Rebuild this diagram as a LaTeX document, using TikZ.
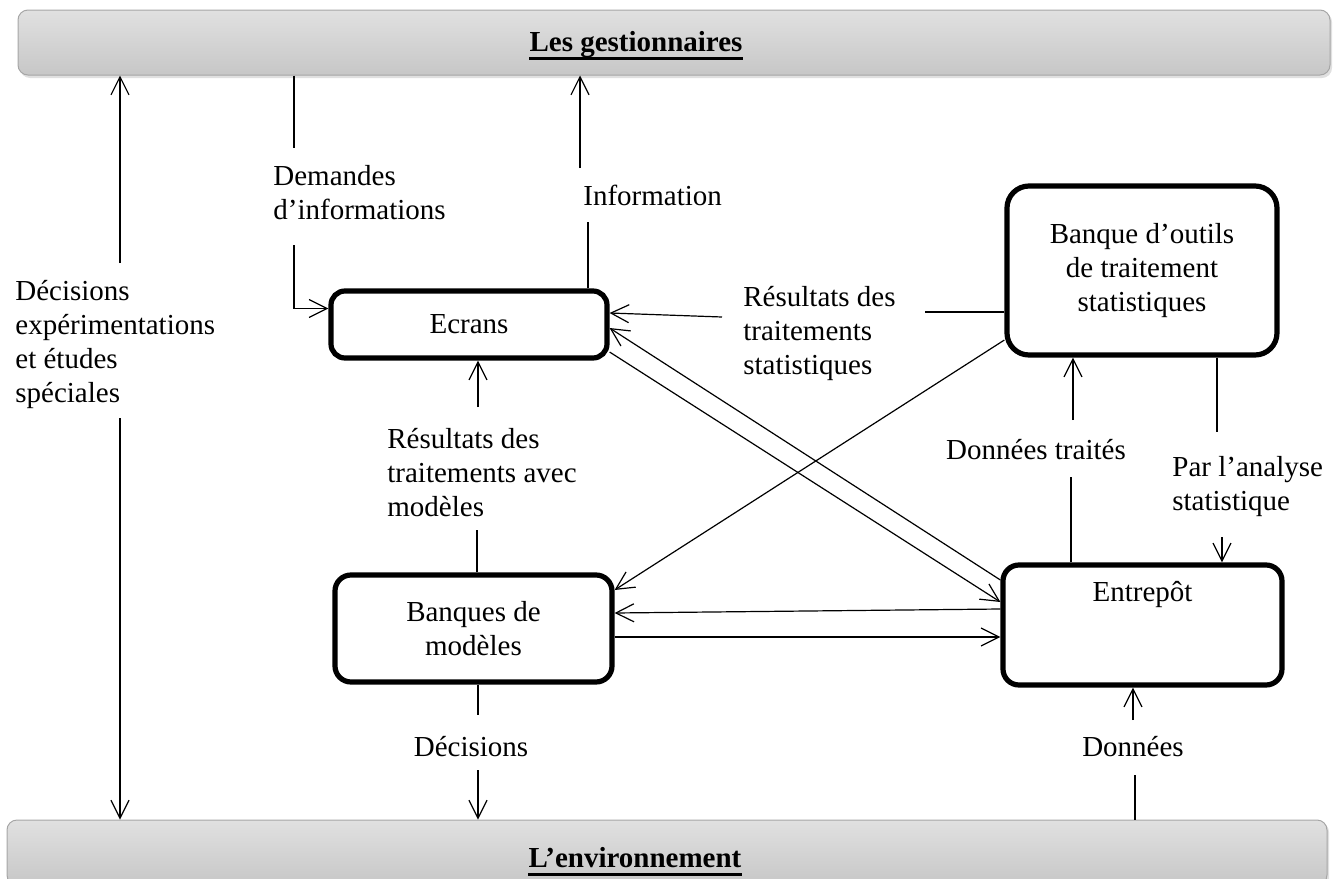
\documentclass[tikz,border=0pt]{standalone}
\usepackage{fontspec}
\setmainfont{Liberation Serif}
\usetikzlibrary{arrows.meta}
\begin{document}
\begin{tikzpicture}[x=0.5pt,y=-0.5pt,
  txt/.style={font=\fontsize{14.5}{17}\selectfont, inner sep=0pt, align=left},
  box/.style={draw, line width=2.6pt, fill=white, font=\fontsize{14.5}{17}\selectfont, align=center, inner sep=0pt},
  bar/.style={draw=black!35, line width=0.5pt, rounded corners=5pt, top color=black!12, bottom color=black!22},
  barshadow/.style={fill=black!12, rounded corners=5pt},
  bartxt/.style={font=\fontsize{14.5}{17}\selectfont\bfseries, inner sep=0pt},
  conn/.style={line width=0.6pt},
  arr/.style={conn, -{Straight Barb[length=9pt,width=9pt,line width=0.6pt]}}
]
\useasboundingbox (0,0) rectangle (1341,879);

% bars
\fill[barshadow] (20,12) rectangle (1332,78);
\node[bar, minimum width=656pt, minimum height=32.5pt] (top) at (674,42.5) {};
\fill[barshadow] (9,822) rectangle (1329,890);
\node[bar, minimum width=660pt, minimum height=32.5pt] (env) at (667,852.5) {};
\node[bartxt] (gt) at (636,45) {Les gestionnaires};
\draw[line width=1.5pt] ([yshift=-3.5pt]gt.base west) -- ([yshift=-3.5pt]gt.base east);
\node[bartxt] (en) at (635,858) {L’environnement};
\draw[line width=1.5pt] ([yshift=-3.5pt]en.base west) -- ([yshift=-3.5pt]en.base east);

% boxes
\node[box, rounded corners=7pt, minimum width=138pt, minimum height=33.5pt] (ecr) at (469,324.5) {Ecrans};
\node[box, rounded corners=11pt, minimum width=135pt, minimum height=84.5pt] (out) at (1142,270.5) {Banque d’outils\\de traitement\\statistiques};
\node[box, rounded corners=8pt, minimum width=138.5pt, minimum height=53.5pt] (mod) at (473.5,628.5) {Banques de\\modèles};
\node[box, rounded corners=8pt, minimum width=139.5pt, minimum height=60pt] (ent) at (1142.5,625) {Entrepôt\\[17pt]};

% labels
\node[txt, anchor=west] (dec) at (15,344) {Décisions\\expérimentations\\et études\\spéciales};
\node[txt, anchor=west] (dem) at (273,193) {Demandes\\d’informations};
\node[txt, anchor=west] (inf) at (583,195) {Information};
\node[txt, anchor=west] (rst) at (743,333) {Résultats des\\traitements\\statistiques};
\node[txt, anchor=west] (ram) at (387,473) {Résultats des\\traitements avec\\modèles};
\node[txt] (dtr) at (1036,450) {Données traités};
\node[txt, anchor=west] (pan) at (1172,487) {Par l’analyse\\statistique};
\node[txt] (deci) at (471,747) {Décisions};
\node[txt] (don) at (1133,747) {Données};

% coordinates for label gaps
\coordinate (d1) at (120,263);
\coordinate (d2) at (120,418);
\coordinate (dm1) at (294,148);
\coordinate (dm2) at (294,245);
\coordinate (in1) at (588,222);
\coordinate (in2) at (580,168);
\coordinate (rs1) at (925,312);
\coordinate (rs2) at (722,317);
\coordinate (am1) at (477,530);
\coordinate (am2) at (478,407);
\coordinate (dt1) at (1071,477);
\coordinate (dt2) at (1073,420);
\coordinate (pa1) at (1217,432);
\coordinate (pa2) at (1222,537);
\coordinate (de1) at (478,715);
\coordinate (de2) at (478,770);
\coordinate (do1) at (1135,775);
\coordinate (do2) at (1133,720);

% connectors
\draw[arr] (d1) -- (d1 |- top.south);
\draw[arr] (d2) -- (d2 |- env.north);

\draw[conn] (dm1 |- top.south) -- (dm1);
\draw[arr] (dm2) |- ([yshift=8pt]ecr.west);

\draw[conn] (in1 |- ecr.north) -- (in1);
\draw[arr] (in2) -- (in2 |- top.south);

\draw[conn] (rs1 -| out.west) -- (rs1);
\draw[arr] (rs2) -- ([yshift=5.75pt]ecr.east);

\draw[arr] ([yshift=22.5pt]ent.west) -- ([yshift=-1.75pt]ecr.east);
\draw[arr] ([yshift=-13.75pt]ecr.east) -- ([yshift=11.5pt]ent.west);

\draw[arr] ([yshift=-34.75pt]out.west) -- ([yshift=19.25pt]mod.east);

\draw[arr] ([yshift=8pt]ent.west) -- ([yshift=7.75pt]mod.east);
\draw[arr] ([yshift=-4.25pt]mod.east) -- ([yshift=-6pt]ent.west);

\draw[conn] (am1 |- mod.north) -- (am1);
\draw[arr] (am2) -- (am2 |- ecr.south);

\draw[conn] (dt1 |- ent.north) -- (dt1);
\draw[arr] (dt2) -- (dt2 |- out.south);

\draw[conn] (pa1 |- out.south) -- (pa1);
\draw[arr] (pa2) -- (pa2 |- ent.north);

\draw[conn] (de1 |- mod.south) -- (de1);
\draw[arr] (de2) -- (de2 |- env.north);

\draw[conn] (do1 |- env.north) -- (do1);
\draw[arr] (do2) -- (do2 |- ent.south);
\end{tikzpicture}
\end{document}
